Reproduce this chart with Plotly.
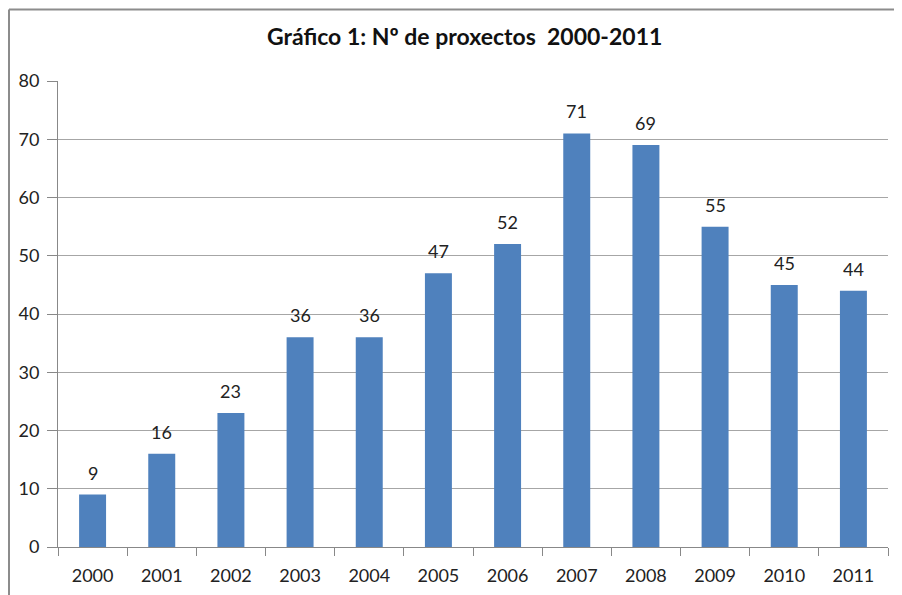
import plotly.graph_objects as go

years = ["2000", "2001", "2002", "2003", "2004", "2005", "2006", "2007", "2008", "2009", "2010", "2011"]
projects = [9, 16, 23, 36, 36, 47, 52, 71, 69, 55, 45, 44]
y_ticks = [0, 10, 20, 30, 40, 50, 60, 70, 80]
title_text = "Gráfico 1: Nº de proxectos  2000-2011"

font_family = "Lato, 'Open Sans', sans-serif"

# figure geometry (page has an 8px body margin)
W, H = 894, 587
ML, MR, MT, MB = 50, 14, 73, 48
PW, PH = W - ML - MR, H - MT - MB

fig = go.Figure()
fig.add_trace(go.Bar(
    x=years, y=projects,
    marker=dict(color="#4F81BD", line=dict(width=0)),
    hoverinfo="x+y",
))

# data labels (category axis: annotation x is the category index)
for i, v in enumerate(projects):
    fig.add_annotation(x=i, y=v, text=str(v), showarrow=False,
                       yanchor="bottom", yshift=9,
                       font=dict(size=18, color="#222222", family=font_family))

fig.add_annotation(xref="paper", yref="paper",
                   x=(456 - ML) / PW, y=1 + (MT - 28) / PH,
                   xanchor="center", yanchor="middle", showarrow=False,
                   text="<b>" + title_text + "</b>",
                   font=dict(size=23, color="#111111", family=font_family))

fig.update_layout(
    width=W, height=H,
    margin=dict(l=ML, r=MR, t=MT, b=MB),
    paper_bgcolor="white", plot_bgcolor="white",
    bargap=0.61,
    showlegend=False,
    font=dict(family=font_family, size=18, color="#222222"),
)
fig.update_xaxes(
    type="category", categoryorder="array", categoryarray=years,
    range=[-0.5, len(years) - 0.5], automargin=False,
    showline=True, linecolor="#888888", linewidth=1,
    ticks="outside", tickson="boundaries", ticklen=8, tickcolor="#888888",
    showgrid=False, tickangle=0, ticklabelstandoff=12,
    tickfont=dict(size=18, color="#222222"),
)
fig.update_yaxes(
    range=[0, 80], tickvals=y_ticks, automargin=False,
    showline=True, linecolor="#888888", linewidth=1,
    ticks="outside", ticklen=10, tickcolor="#888888",
    showgrid=True, gridcolor="#A6A6A6", gridwidth=1,
    zeroline=False, ticklabelstandoff=4,
    tickfont=dict(size=18, color="#222222"),
)

# chart-area border (top and left edges visible)
bx = (1 - ML) / PW
by = 1 + (MT - 1.5) / PH
fig.add_shape(type="line", xref="paper", yref="paper",
              x0=bx, x1=1.2, y0=by, y1=by,
              line=dict(color="#8C8C8C", width=2))
fig.add_shape(type="line", xref="paper", yref="paper",
              x0=bx, x1=bx, y0=-0.3, y1=by,
              line=dict(color="#8C8C8C", width=2))

fig.write_html("out.html")
